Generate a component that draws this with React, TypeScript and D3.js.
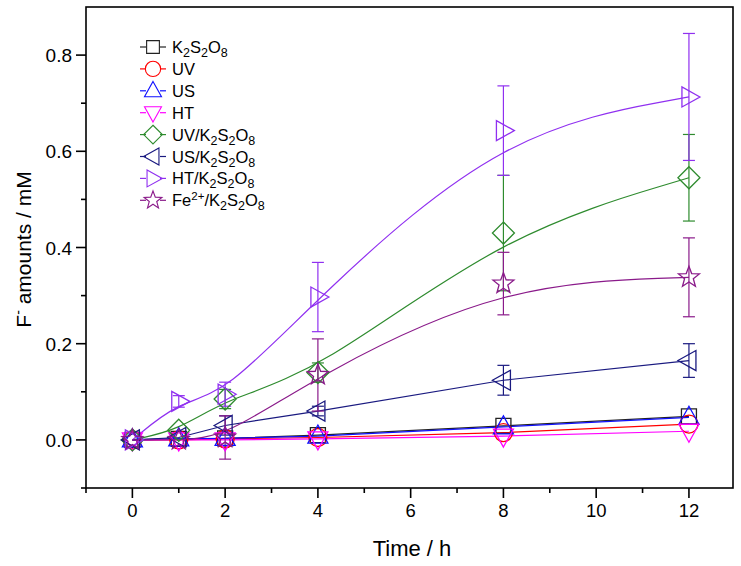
import React from "react";
import * as d3 from "d3";

const times = [0, 1, 2, 4, 8, 12];
const k2s2o8 = [0, 0.002, 0.003, 0.01, 0.029, 0.049];
const uv = [0, 0, 0.002, 0.005, 0.015, 0.033];
const us = [0, 0.002, 0.003, 0.008, 0.027, 0.047];
const ht = [0, 0, 0, 0.002, 0.008, 0.018];
const uvK = [0, 0.02, 0.085, 0.14, 0.43, 0.545];
const uvKErr = [0, 0.005, 0.02, 0.02, 0.12, 0.09];
const usK = [0, 0.005, 0.03, 0.06, 0.124, 0.165];
const usKErr = [0, 0.005, 0.02, 0.01, 0.031, 0.035];
const htK = [0, 0.08, 0.095, 0.297, 0.643, 0.713];
const htKErr = [0, 0.012, 0.025, 0.072, 0.093, 0.132];
const feK = [0, 0, 0.005, 0.135, 0.325, 0.338];
const feKErr = [0, 0.005, 0.045, 0.075, 0.065, 0.082];

const xTicks = [0, 2, 4, 6, 8, 10, 12];
const xMinor = [-1, 1, 3, 5, 7, 9, 11];
const yTicks = [0, 0.2, 0.4, 0.6, 0.8];
const yMinor = [-0.1, 0.1, 0.3, 0.5, 0.7];

type Series = {
  name: string;
  label: React.ReactNode;
  values: number[];
  err?: number[];
  color: string;
  symbol: string;
  smooth: boolean;
};

const sub = (t: string) => (
  <tspan baselineShift="-30%" fontSize="12.5">{t}</tspan>
);
const k2 = (
  <>
    <tspan>K</tspan>
    {sub("2")}
    <tspan>S</tspan>
    {sub("2")}
    <tspan>O</tspan>
    {sub("8")}
  </>
);

const series: Series[] = [
  { name: "K2S2O8", label: k2, values: k2s2o8, color: "#222222", symbol: "square", smooth: false },
  { name: "UV", label: <tspan>UV</tspan>, values: uv, color: "#ff0000", symbol: "circle", smooth: false },
  { name: "US", label: <tspan>US</tspan>, values: us, color: "#1010ff", symbol: "triUp", smooth: false },
  { name: "HT", label: <tspan>HT</tspan>, values: ht, color: "#ff00ff", symbol: "triDown", smooth: false },
  { name: "UV/K", label: <><tspan>UV/</tspan>{k2}</>, values: uvK, err: uvKErr, color: "#2e8b2e", symbol: "diamond", smooth: true },
  { name: "US/K", label: <><tspan>US/</tspan>{k2}</>, values: usK, err: usKErr, color: "#1a1a80", symbol: "triLeft", smooth: false },
  { name: "HT/K", label: <><tspan>HT/</tspan>{k2}</>, values: htK, err: htKErr, color: "#9030f0", symbol: "triRight", smooth: true },
  {
    name: "Fe/K",
    label: (
      <>
        <tspan>Fe</tspan>
        <tspan baselineShift="super" fontSize="11.5">2+</tspan>
        <tspan>/</tspan>
        {k2}
      </>
    ),
    values: feK,
    err: feKErr,
    color: "#8a1a8a",
    symbol: "star",
    smooth: true,
  },
];

function symbolPath(sym: string, cx: number, cy: number): string {
  const r = 9;
  switch (sym) {
    case "square":
      return `M${cx - 7.5},${cy - 7.5}h15v15h-15Z`;
    case "circle":
      return `M${cx - r},${cy}a${r},${r} 0 1,0 ${2 * r},0a${r},${r} 0 1,0 ${-2 * r},0Z`;
    case "triUp":
      return `M${cx},${cy - 11}L${cx + 10},${cy + 7}L${cx - 10},${cy + 7}Z`;
    case "triDown":
      return `M${cx},${cy + 11}L${cx + 10},${cy - 7}L${cx - 10},${cy - 7}Z`;
    case "triLeft":
      return `M${cx - 11},${cy}L${cx + 7},${cy - 10}L${cx + 7},${cy + 10}Z`;
    case "triRight":
      return `M${cx + 11},${cy}L${cx - 7},${cy - 10}L${cx - 7},${cy + 10}Z`;
    case "diamond":
      return `M${cx},${cy - 11}L${cx + 11},${cy}L${cx},${cy + 11}L${cx - 11},${cy}Z`;
    case "star": {
      const pts: string[] = [];
      for (let i = 0; i < 10; i++) {
        const a = -Math.PI / 2 + (i * Math.PI) / 5;
        const rr = i % 2 === 0 ? 11 : 4.6;
        pts.push(`${cx + rr * Math.cos(a)},${cy + rr * Math.sin(a)}`);
      }
      return "M" + pts.join("L") + "Z";
    }
  }
  return "";
}

export default function App() {
  const W = 741;
  const H = 566;
  const left = 86, right = 733, top = 7, bottom = 488;
  const x = d3.scaleLinear().domain([-1, 12.95]).range([left, right]);
  const y = d3.scaleLinear().domain([-0.1, 0.9]).range([bottom, top]);
  const font = "'Liberation Sans', Arial, sans-serif";

  const lineGen = (smooth: boolean) =>
    d3
      .line<number>()
      .x((_, i) => x(times[i]))
      .y((v) => y(v))
      .curve(smooth ? d3.curveBasis : d3.curveLinear);

  return (
    <svg width={W} height={H} style={{ position: "absolute", left: 0, top: 0, background: "#fff" }} fontFamily={font}>
      <rect x={0} y={0} width={W} height={H} fill="#fff" />
      {series.map((s) => (
        <path key={s.name + "l"} d={lineGen(s.smooth)(s.values) || ""} fill="none" stroke={s.color} strokeWidth={1.2} />
      ))}
      {series.map((s) =>
        s.err
          ? s.values.map((v, i) =>
              s.err![i] > 0.006 ? (
                <g key={s.name + "e" + i} stroke={s.color} strokeWidth={1.2}>
                  <line x1={x(times[i])} x2={x(times[i])} y1={y(v + s.err![i])} y2={y(v - s.err![i])} />
                  <line x1={x(times[i]) - 6} x2={x(times[i]) + 6} y1={y(v + s.err![i])} y2={y(v + s.err![i])} />
                  <line x1={x(times[i]) - 6} x2={x(times[i]) + 6} y1={y(v - s.err![i])} y2={y(v - s.err![i])} />
                </g>
              ) : null
            )
          : null
      )}
      {series.map((s) =>
        s.values.map((v, i) => (
          <path key={s.name + "m" + i} d={symbolPath(s.symbol, x(times[i]), y(v))} fill="none" stroke={s.color} strokeWidth={1.3} />
        ))
      )}
      <rect x={left} y={top} width={right - left} height={bottom - top} fill="none" stroke="#000" strokeWidth={1.6} />
      {xTicks.map((t) => (
        <g key={"xt" + t}>
          <line x1={x(t)} x2={x(t)} y1={bottom} y2={bottom + 10} stroke="#000" strokeWidth={1.6} />
          <text x={x(t)} y={517} textAnchor="middle" fontSize={18.5}>{t}</text>
        </g>
      ))}
      {xMinor.map((t) => (
        <line key={"xm" + t} x1={x(t)} x2={x(t)} y1={bottom} y2={bottom + 5} stroke="#000" strokeWidth={1.6} />
      ))}
      {yTicks.map((t) => (
        <g key={"yt" + t}>
          <line x1={left - 10} x2={left} y1={y(t)} y2={y(t)} stroke="#000" strokeWidth={1.6} />
          <text x={72} y={y(t) + 7} textAnchor="end" fontSize={19}>{t.toFixed(1)}</text>
        </g>
      ))}
      {yMinor.map((t) => (
        <line key={"ym" + t} x1={left - 5} x2={left} y1={y(t)} y2={y(t)} stroke="#000" strokeWidth={1.6} />
      ))}
      <text x={412} y={556} textAnchor="middle" fontSize={22}>Time / h</text>
      <text transform={`translate(31, ${(top + bottom) / 2 + 2}) rotate(-90)`} textAnchor="middle" fontSize={21}>
        <tspan>F</tspan>
        <tspan baselineShift="super" fontSize="14">-</tspan>
        <tspan> amounts / mM</tspan>
      </text>
      {series.map((s, i) => {
        const ly = 47 + i * 21.9;
        return (
          <g key={s.name + "lg"}>
            <line x1={140} x2={146} y1={ly} y2={ly} stroke={s.color} strokeWidth={1.2} />
            <line x1={160} x2={166} y1={ly} y2={ly} stroke={s.color} strokeWidth={1.2} />
            <path d={symbolPath(s.symbol, 153, ly)} fill="none" stroke={s.color} strokeWidth={1.3} transform={`translate(153 ${ly}) scale(0.85) translate(-153 ${-ly})`} />
            <text x={172} y={ly + 6} fontSize={16.5}>{s.label}</text>
          </g>
        );
      })}
    </svg>
  );
}
